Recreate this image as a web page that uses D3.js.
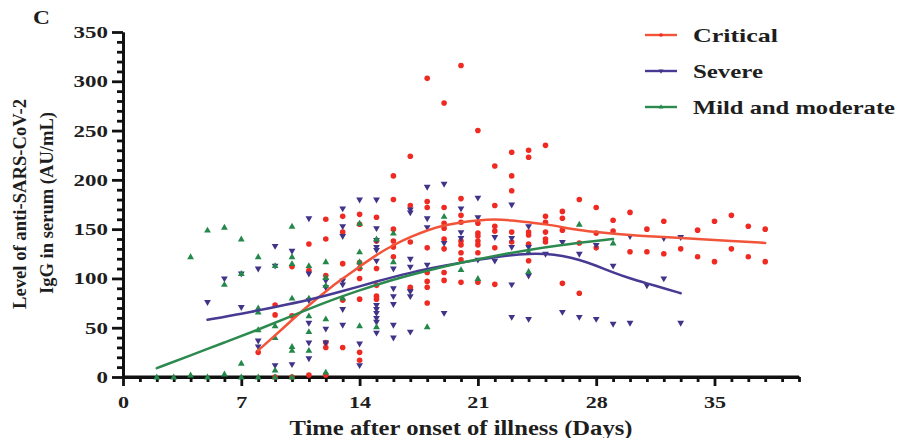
<!DOCTYPE html>
<html><head><meta charset="utf-8">
<script src="https://cdn.jsdelivr.net/npm/d3@7/dist/d3.min.js"></script>
<style>
body{margin:0;background:#fff;}
svg{display:block;}
text{font-family:"Liberation Serif","Times New Roman",serif;font-weight:bold;fill:#1e1e1e;}
</style>
</head><body>
<svg id="chart" width="897" height="438"></svg>
<script>
// ---------- data ----------
const xTicks = [0, 7, 14, 21, 28, 35];
const yTicks = [0, 50, 100, 150, 200, 250, 300, 350];
const seriesNames = ["Critical", "Severe", "Mild and moderate"];
const panelLabel = "C";
const xTitle = "Time after onset of illness (Days)";
const yTitleLines = ["Level of anti-SARS-CoV-2", "IgG in serum (AU/mL)"];

const criticalPoints = [
  [8,25],
  [9,73],[9,63],[9,0],
  [10,112],[10,62],[10,0],
  [11,135],[11,108],[11,2],
  [12,160],[12,140],[12,103],[12,35],[12,30],[12,2],
  [13,163],[13,147],[13,115],[13,78],[13,30],
  [14,165],[14,155],[14,116],[14,110],[14,100],[14,79],[14,25],[14,17],
  [15,162],[15,138],[15,110],[15,93],[15,82],[15,79],
  [16,204],[16,180],[16,150],[16,138],[16,132],[16,122],
  [17,224],[17,174],[17,137],[17,91],[17,89],
  [18,303],[18,178],[18,172],[18,131],[18,106],[18,97],[18,91],[18,75],
  [19,278],[19,172],[19,156],[19,151],[19,140],[19,130],[19,106],[19,98],
  [20,316],[20,181],[20,164],[20,157],[20,138],[20,134],[20,126],[20,119],[20,96],
  [21,250],[21,156],[21,146],[21,143],[21,138],[21,134],[21,126],[21,96],
  [22,214],[22,174],[22,153],[22,148],[22,131],[22,94],
  [23,228],[23,204],[23,189],[23,147],[23,137],
  [24,230],[24,223],[24,147],[24,144],[24,135],[24,118],
  [25,235],[25,163],[25,157],[25,147],[25,140],[25,137],
  [26,168],[26,161],[26,149],[26,95],
  [27,180],[27,136],[27,85],
  [28,172],[28,146],[28,131],
  [29,159],[29,148],
  [30,167],[30,127],
  [31,150],[31,127],
  [32,158],[32,125],
  [33,130],
  [34,149],[34,122],
  [35,158],[35,117],
  [36,164],[36,130],
  [37,153],[37,122],
  [38,150],[38,117]
];
const severePoints = [
  [5,76],
  [6,100],
  [7,105],[7,71],
  [8,110],[8,37],[8,31],
  [9,133],[9,113],[9,12],
  [10,128],[10,13],
  [11,161],[11,105],[11,78],[11,55],[11,35],[11,19],
  [12,98],[12,91],[12,49],[12,35],
  [13,171],[13,153],[13,143],[13,98],[13,94],[13,69],[13,53],
  [14,180],[14,34],[14,12],
  [15,180],[15,151],[15,139],[15,132],[15,129],[15,118],[15,73],[15,69],[15,65],[15,60],[15,56],[15,45],
  [16,110],[16,90],[16,82],[16,74],[16,53],[16,40],
  [17,170],[17,167],[17,120],[17,112],[17,87],[17,82],[17,46],
  [18,193],[18,161],[18,152],[18,114],
  [19,196],[19,136],[19,65],
  [20,171],[20,147],[20,141],
  [21,182],[21,162],[21,119],
  [22,142],[22,118],
  [23,175],[23,141],[23,132],[23,94],[23,61],
  [24,153],[24,132],[24,103],[24,59],
  [25,125],
  [26,137],[26,66],
  [27,125],[27,61],
  [28,134],[28,59],
  [29,113],[29,54],
  [30,143],[30,55],
  [31,93],
  [32,141],[32,100],
  [33,142],[33,55]
];
const mildPoints = [
  [2,0],[3,0],
  [4,122],[4,2],
  [5,149],[5,0],
  [6,152],[6,94],[6,3],
  [7,140],[7,105],[7,14],[7,0],
  [8,122],[8,70],[8,66],[8,48],[8,0],
  [9,113],[9,52],[9,40],[9,7],[9,0],
  [10,153],[10,122],[10,115],[10,80],[10,31],[10,27],[10,0],
  [11,113],[11,80],[11,62],[11,46],[11,27],
  [12,117],[12,101],[12,93],[12,59],[12,5],
  [13,80],
  [14,156],[14,127],[14,117],[14,112],[14,52],
  [15,140],[15,51],
  [16,146],[16,117],
  [18,51],
  [19,163],
  [20,109],
  [21,100],
  [24,127],[24,107],
  [27,155],
  [29,136]
];
// fitted (smoothed) curves
const criticalCurve = [[8,27],[9,42],[10,58],[11,73],[12,87],[13,100],[14,112],[15,124],[16,134],[17,142],[18,149],[19,154],[20,157],[21,159],[22,160],[23,159],[24,157],[25,155],[26,152],[27,149],[28,147],[30,144],[32,142],[34,140],[36,138],[38,136]];
const severeCurve = [[5,58],[7,64],[9,71],[11,78],[13,87],[15,97],[17,106],[19,113],[21,119],[23,124],[24,125],[25,125],[26,123],[27,119],[28,113],[29,106],[30,100],[31,95],[32,90],[33,85]];
const mildCurve = [[2,9],[4,22],[6,35],[8,48],[10,62],[12,76],[14,88],[16,99],[18,108],[20,116],[22,123],[24,129],[26,134],[28,138],[29,140]];

// ---------- styles ----------
const markerColors = ["#ee2a22", "#3f3487", "#23884a"];
const lineColors = ["#f2543a", "#463a93", "#2c8a4f"];

const svg = d3.select("#chart");
const x = d3.scaleLinear().domain([0, 40]).range([123, 799]);
const y = d3.scaleLinear().domain([0, 350]).range([377, 32]);

function stretch(sel, k) {
  sel.each(function () {
    const w = this.getComputedTextLength();
    d3.select(this).attr("textLength", w * k).attr("lengthAdjust", "spacingAndGlyphs");
  });
}

// axes
const axisStroke = 2.8;
const xMinor = d3.axisBottom(x).tickValues(d3.range(0, 41).filter(d => d % 7 !== 0)).tickSize(5).tickSizeOuter(0).tickFormat("");
const xMajor = d3.axisBottom(x).tickValues(xTicks).tickSize(9).tickSizeOuter(0).tickPadding(10);
const yMinor = d3.axisLeft(y).tickValues(d3.range(0, 351, 10).filter(d => d % 50 !== 0)).tickSize(6).tickSizeOuter(0).tickFormat("");
const yMajor = d3.axisLeft(y).tickValues(yTicks).tickSize(11).tickSizeOuter(0).tickPadding(4);

function styleAxis(g) {
  g.selectAll("path.domain").attr("stroke", "#111").attr("stroke-width", axisStroke);
  g.selectAll(".tick line").attr("stroke", "#111").attr("stroke-width", axisStroke);
  g.selectAll("text").attr("font-size", 17).attr("font-family", "Liberation Serif, serif").attr("font-weight", "bold").attr("fill", "#1e1e1e");
}
const gxm = svg.append("g").attr("transform", `translate(0,${y(0)})`).call(xMinor).call(styleAxis);
const gx = svg.append("g").attr("transform", `translate(0,${y(0)})`).call(xMajor).call(styleAxis);
const gym = svg.append("g").attr("transform", `translate(${x(0)},0)`).call(yMinor).call(styleAxis);
const gy = svg.append("g").attr("transform", `translate(${x(0)},0)`).call(yMajor).call(styleAxis);
gxm.select("path.domain").attr("d", `M${x(0)},0H${x(40)}`);
stretch(gx.selectAll("text"), 1.3);
stretch(gy.selectAll("text"), 1.35);

// points
const circleR = 2.8;
const triSize = 20;
const pts = svg.append("g");
pts.selectAll("circle.crit").data(criticalPoints).join("circle")
  .attr("class", "crit").attr("cx", d => x(d[0])).attr("cy", d => y(d[1])).attr("r", circleR)
  .attr("fill", markerColors[0]);
pts.selectAll("path.sev").data(severePoints).join("path")
  .attr("class", "sev").attr("d", d3.symbol(d3.symbolTriangle, triSize)())
  .attr("transform", d => `translate(${x(d[0])},${y(d[1])}) rotate(180)`)
  .attr("fill", markerColors[1]);
pts.selectAll("path.mild").data(mildPoints).join("path")
  .attr("class", "mild").attr("d", d3.symbol(d3.symbolTriangle, triSize)())
  .attr("transform", d => `translate(${x(d[0])},${y(d[1]) + 0.5})`)
  .attr("fill", markerColors[2]);

// curves
const line = d3.line().x(d => x(d[0])).y(d => y(d[1])).curve(d3.curveBasis);
[criticalCurve, severeCurve, mildCurve].forEach((c, i) => {
  svg.append("path").attr("d", line(c)).attr("fill", "none")
    .attr("stroke", lineColors[i]).attr("stroke-width", 2.5).attr("stroke-linecap", "round");
});

// panel label
svg.append("text").attr("x", 33).attr("y", 24).attr("font-size", 18).text(panelLabel)
  .call(s => stretch(s, 1.3));

// x title
svg.append("text").attr("x", 461).attr("y", 435).attr("text-anchor", "middle")
  .attr("font-size", 20).text(xTitle).attr("textLength", 343).attr("lengthAdjust", "spacingAndGlyphs");

// y title
const yt = svg.append("g");
yt.append("text").attr("transform", "translate(26,204) rotate(-90)").attr("text-anchor", "middle")
  .attr("font-size", 19).text(yTitleLines[0]).attr("textLength", 210).attr("lengthAdjust", "spacingAndGlyphs");
yt.append("text").attr("transform", "translate(53,203) rotate(-90)").attr("text-anchor", "middle")
  .attr("font-size", 19).text(yTitleLines[1]).attr("textLength", 182).attr("lengthAdjust", "spacingAndGlyphs");

// legend
const legY = [35, 71, 107];
const legW = [85, 70, 202];
const lg = svg.append("g");
seriesNames.forEach((name, i) => {
  lg.append("line").attr("x1", 645).attr("x2", 677).attr("y1", legY[i]).attr("y2", legY[i])
    .attr("stroke", lineColors[i]).attr("stroke-width", 2.4);
  if (i === 0) {
    lg.append("circle").attr("cx", 661).attr("cy", legY[i]).attr("r", 1.8).attr("fill", markerColors[0]);
  } else {
    lg.append("path").attr("d", d3.symbol(d3.symbolTriangle, 10)())
      .attr("transform", `translate(661,${legY[i]}) rotate(${i === 1 ? 180 : 0})`).attr("fill", markerColors[i]);
  }
  lg.append("text").attr("x", 693).attr("y", legY[i] + 7).attr("font-size", 19).text(name)
    .attr("textLength", legW[i]).attr("lengthAdjust", "spacingAndGlyphs");
});
</script>
</body></html>
